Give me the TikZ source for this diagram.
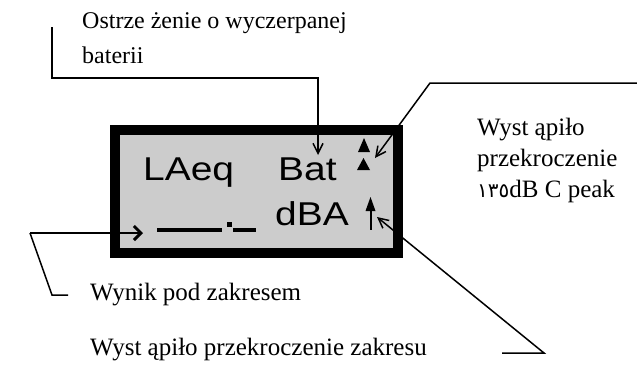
\documentclass[tikz,border=0pt]{standalone}
\usepackage{fontspec}
\setmainfont{Liberation Serif}
\newfontfamily\lcdfont[FakeStretch=1.18]{Liberation Sans}
\newfontfamily\digitfont{DejaVu Sans}
\usetikzlibrary{positioning}
\usetikzlibrary{arrows.meta}
\tikzset{%
  pointer/.style = {line width=1.5pt},
  pointerarrow/.style = {line width=1.5pt,
        -{Straight Barb[length=10pt,width=10pt]}},
  lbl/.style = {inner sep=0pt,anchor=base west,
        font=\fontsize{25}{30}\selectfont},
  lcdtxt/.style = {inner sep=0pt,anchor=base west,
        font=\lcdfont\fontsize{33}{33}\selectfont},
  seg/.style = {fill=black}
}

\begin{document}
\begin{tikzpicture}[x=1pt,y=-1pt]
    \useasboundingbox (0,0) rectangle (637,365);
    % display
    \draw[line width=10pt,fill=black!20] (115,130) rectangle (398,253);
    \node[lcdtxt] (laeq) at (143,180) {LAeq};
    \node[lcdtxt] (bat) at (278,180) {Bat};
    \node[lcdtxt] (dba) at (275,225) {dBA};
    \fill[seg] (157,228) rectangle (222,232);
    \fill[seg] (227,222) rectangle (232,227);
    \fill[seg] (233,228) rectangle (256,232);
    \fill[seg] (358,152) -- (370,152) -- (364,138) -- cycle;
    \fill[seg] (357,170) -- (370,170) -- (363.5,158) -- cycle;
    \fill[seg] (365.5,211) -- (375.5,211) -- (370.5,197) -- cycle;
    \fill[seg] (369.5,210) rectangle (371.5,230);

    % labels
    \node[lbl,font=\fontsize{24}{30}\selectfont] (ostrz) at (82,28) {Ostrze żenie o wyczerpanej};
    \node[lbl,font=\fontsize{24}{30}\selectfont] (bater) at (82,63) {baterii};
    \node[lbl] (wyst1) at (477,135) {Wyst ąpiło};
    \node[lbl] (wyst2) at (477,166) {przekroczenie};
    \node[lbl] (wyst3) at (477,197) {{\digitfont\fontsize{20}{24}\selectfont ١٣٥}dB C peak};
    \node[lbl] (wynik) at (90,300) {Wynik pod zakresem};
    \node[lbl] (zakres) at (90,355) {Wyst ąpiło przekroczenie zakresu};

    % pointers
    \coordinate (b1) at (52,27);
    \coordinate (b2) at (52,78);
    \coordinate (b3) at (318,78);
    \coordinate (btip) at (318,155);
    \draw[pointerarrow] (b1) -- (b2) -- (b3) -- (btip);

    \coordinate (p1) at (637,83);
    \coordinate (p2) at (430,83);
    \coordinate (ptip) at (375,158);
    \draw[pointerarrow] (p1) -- (p2) -- (ptip);

    \coordinate (z1) at (502,353);
    \coordinate (z2) at (544,353);
    \coordinate (ztip) at (377,217);
    \draw[pointerarrow] (z1) -- (z2) -- (ztip);

    \coordinate (w1) at (68,295);
    \coordinate (w2) at (52,295);
    \coordinate (w3) at (30,233);
    \coordinate (wtip) at (143,233);
    \draw[pointer] (w1) -- (w2) -- (w3);
    \draw[pointer,-{Straight Barb[length=7pt,width=14pt,line width=3pt]}] (w3) -- (wtip);
\end{tikzpicture}
\end{document}
